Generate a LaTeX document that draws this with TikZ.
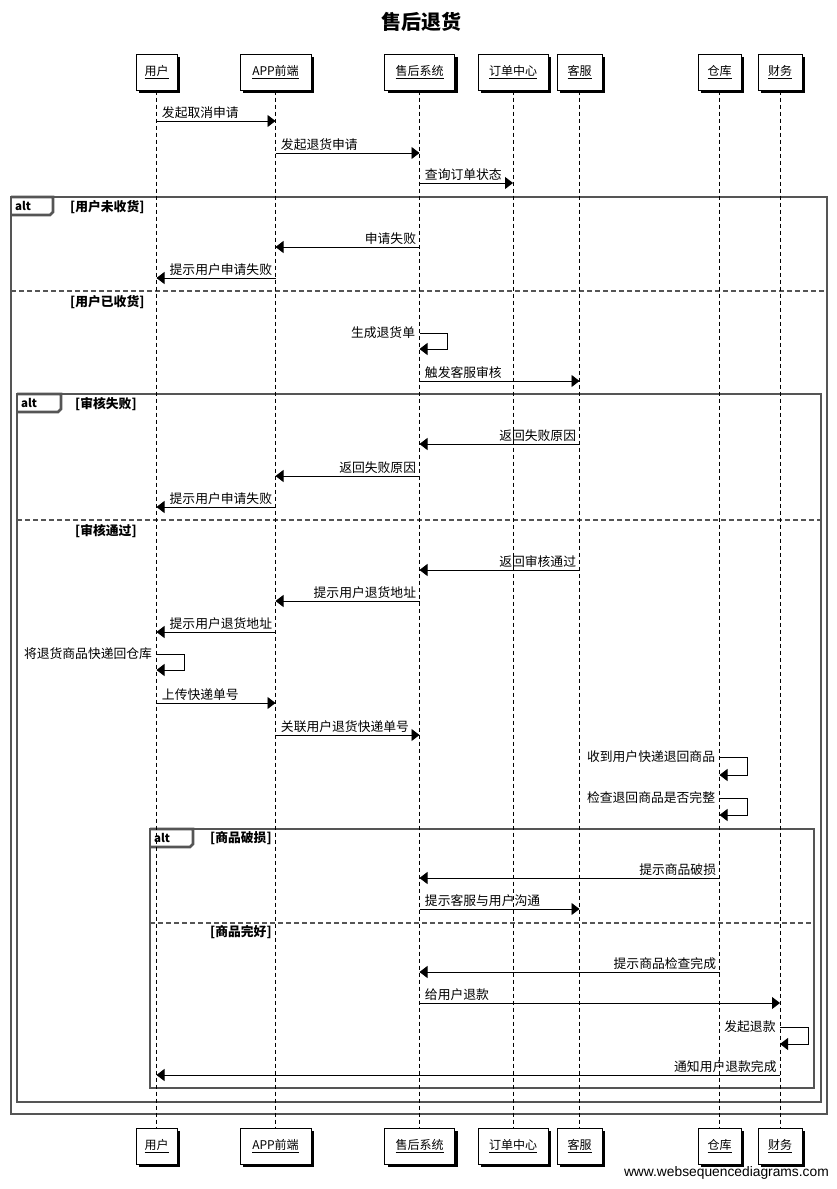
\documentclass[tikz,border=0pt]{standalone}
\usepackage{fontspec}
\setmainfont{Noto Sans CJK SC}
\newfontfamily\wsdfont{Liberation Sans}
\usetikzlibrary{arrows.meta,shadows}
\definecolor{framegray}{RGB}{85,85,85}
\tikzset{
  actor/.style={draw, fill=white, line width=1pt, minimum height=36pt, inner sep=0pt,
    font=\fontsize{12}{14}\selectfont,
    drop shadow={shadow xshift=3pt, shadow yshift=-3pt, fill=black, opacity=1}},
  lifeline/.style={draw, line width=0.8pt, dash pattern=on 4pt off 3pt},
  msg/.style={line width=0.9pt, -{Triangle[length=8pt,width=12pt]}},
  lbl/.style={font=\fontsize{12.8}{15}\selectfont, inner sep=1pt},
  frame/.style={draw=framegray, line width=2.7pt},
  sepline/.style={draw=framegray, line width=2.7pt, dash pattern=on 5pt off 3pt},
  cond/.style={font=\bfseries\fontsize{12.8}{15}\selectfont, anchor=west, inner sep=0pt},
  alttag/.style={font=\bfseries\fontsize{11.5}{13}\selectfont, anchor=west, inner sep=0pt},
}
\newcommand\msgLR[4]{\draw[msg] (#1 |- 0,#3) -- node[lbl, pos=0, anchor=south west, xshift=4pt, yshift=1pt] {#4} (#2 |- 0,#3);}
\newcommand\msgRL[4]{\draw[msg] (#1 |- 0,#3) -- node[lbl, pos=0, anchor=south east, xshift=-2pt, yshift=1pt] {#4} (#2 |- 0,#3);}
\newcommand\selfmsg[4]{\draw[msg] (#1 |- 0,#2) node[lbl, anchor=east, xshift=-3pt] {#4} -- ++(28,0) |- (#1 |- 0,#3);}
\begin{document}
\begin{tikzpicture}[x=1pt,y=-1pt]
\useasboundingbox (0,0) rectangle (837,1189);
% title
\node[font=\bfseries\fontsize{20}{23}\selectfont] (title) at (421,22) {售后退货};
% frames
\draw[frame] (11,197) rectangle (827,1114);
\draw[frame] (11,197) -- (53,197) -- (53,212) -- (50,215) -- (11,215);
\node[alttag] (alt1) at (15,206) {alt};
\node[cond] (c1a) at (70,207) {[用户未收货]};
\draw[sepline] (11,291) -- (827,291);
\node[cond] (c1b) at (70,302) {[用户已收货]};

\draw[frame] (17,394) rectangle (821,1102);
\draw[frame] (17,394) -- (61,394) -- (61,409) -- (58,412) -- (17,412);
\node[alttag] (alt2) at (21,403) {alt};
\node[cond] (c2a) at (75,404) {[审核失败]};
\draw[sepline] (17,520) -- (821,520);
\node[cond] (c2b) at (75,531) {[审核通过]};

\draw[frame] (150,829) rectangle (814,1088);
\draw[frame] (150,829) -- (193,829) -- (193,844) -- (190,847) -- (150,847);
\node[alttag] (alt3) at (154,838) {alt};
\node[cond] (c3a) at (210,838) {[商品破损]};
\draw[sepline] (150,923) -- (814,923);
\node[cond] (c3b) at (210,932) {[商品完好]};

% actors top
\node[actor, minimum width=41pt] (uT) at (156.5,72) {\underline{用户}};
\node[actor, minimum width=71pt] (aT) at (275.5,72) {\underline{APP前端}};
\node[actor, minimum width=70pt] (sT) at (419.5,72) {\underline{售后系统}};
\node[actor, minimum width=70pt] (oT) at (513,72) {\underline{订单中心}};
\node[actor, minimum width=45pt] (cT) at (579.5,72) {\underline{客服}};
\node[actor, minimum width=43pt] (wT) at (719.5,72) {\underline{仓库}};
\node[actor, minimum width=44pt] (fT) at (780,72) {\underline{财务}};
% actors bottom
\node[actor, minimum width=41pt] (uB) at (156.5,1146) {\underline{用户}};
\node[actor, minimum width=71pt] (aB) at (275.5,1146) {\underline{APP前端}};
\node[actor, minimum width=70pt] (sB) at (419.5,1146) {\underline{售后系统}};
\node[actor, minimum width=70pt] (oB) at (513,1146) {\underline{订单中心}};
\node[actor, minimum width=45pt] (cB) at (579.5,1146) {\underline{客服}};
\node[actor, minimum width=43pt] (wB) at (719.5,1146) {\underline{仓库}};
\node[actor, minimum width=44pt] (fB) at (780,1146) {\underline{财务}};
% lifelines
\foreach \n in {u,a,s,o,c,w,f}{
  \draw[lifeline] (\n T.south) -- (\n B.north);
}
% messages
\msgLR{uT}{aT}{121}{发起取消申请}
\msgLR{aT}{sT}{153}{发起退货申请}
\msgLR{sT}{oT}{183}{查询订单状态}
\msgRL{sT}{aT}{247}{申请失败}
\msgRL{aT}{uT}{278}{提示用户申请失败}
\selfmsg{sT}{333}{349}{生成退货单}
\msgLR{sT}{cT}{381}{触发客服审核}
\msgRL{cT}{sT}{444}{返回失败原因}
\msgRL{sT}{aT}{476}{返回失败原因}
\msgRL{aT}{uT}{507}{提示用户申请失败}
\msgRL{cT}{sT}{570}{返回审核通过}
\msgRL{sT}{aT}{601}{提示用户退货地址}
\msgRL{aT}{uT}{632}{提示用户退货地址}
\selfmsg{uT}{654}{670}{将退货商品快递回仓库}
\msgLR{uT}{aT}{703}{上传快递单号}
\msgLR{aT}{sT}{735}{关联用户退货快递单号}
\selfmsg{wT}{757}{775}{收到用户快递退回商品}
\selfmsg{wT}{798}{815}{检查退回商品是否完整}
\msgRL{wT}{sT}{878}{提示商品破损}
\msgLR{sT}{cT}{909}{提示客服与用户沟通}
\msgRL{wT}{sT}{972}{提示商品检查完成}
\msgLR{sT}{fT}{1003}{给用户退款}
\selfmsg{fT}{1027}{1044}{发起退款}
\msgRL{fT}{uT}{1075}{通知用户退款完成}
% watermark
\node[font=\wsdfont\fontsize{13.8}{16}\selectfont, anchor=east, inner sep=0pt] (wm) at (829,1173) {www.websequencediagrams.com};
\end{tikzpicture}
\end{document}
